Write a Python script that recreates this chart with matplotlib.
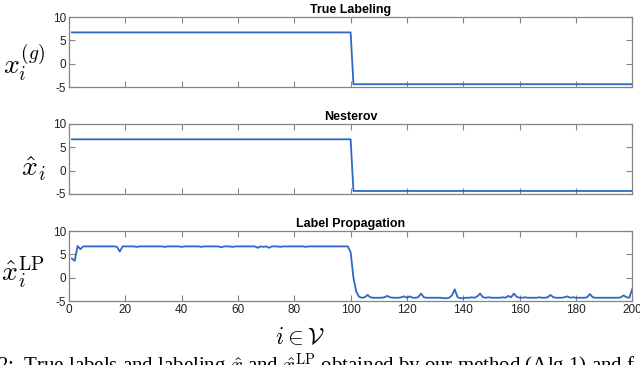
import numpy as np
import matplotlib.pyplot as plt

# node index
nodes = np.arange(1, 201)

# true labeling and Nesterov estimate (two clusters of 100 nodes)
true_label = [6.7] * 100 + [-4.4] * 100
nesterov = [6.72] * 100 + [-4.35] * 100

# label propagation estimate
label_prop = [
    4.1, 3.6, 6.8, 6.1, 6.7, 6.7, 6.7, 6.7, 6.7, 6.7,
    6.7, 6.7, 6.7, 6.7, 6.7, 6.7, 6.6, 5.6, 6.7, 6.7,
    6.7, 6.7, 6.7, 6.6, 6.7, 6.7, 6.7, 6.7, 6.7, 6.7,
    6.7, 6.7, 6.7, 6.6, 6.7, 6.7, 6.7, 6.7, 6.7, 6.6,
    6.7, 6.7, 6.7, 6.7, 6.7, 6.7, 6.6, 6.7, 6.7, 6.7,
    6.7, 6.7, 6.7, 6.5, 6.7, 6.7, 6.7, 6.6, 6.7, 6.7,
    6.7, 6.7, 6.7, 6.7, 6.7, 6.7, 6.4, 6.7, 6.6, 6.7,
    6.4, 6.7, 6.7, 6.7, 6.6, 6.7, 6.7, 6.7, 6.7, 6.7,
    6.7, 6.7, 6.7, 6.6, 6.7, 6.7, 6.7, 6.7, 6.7, 6.7,
    6.7, 6.7, 6.7, 6.7, 6.7, 6.7, 6.7, 6.7, 6.7, 5.5,
    0.0, -3.0, -4.1, -4.3, -4.2, -3.7, -4.2, -4.3, -4.3, -4.3,
    -4.3, -4.2, -3.9, -4.2, -4.3, -4.3, -4.3, -4.2, -4.0, -4.3,
    -4.0, -4.3, -4.3, -4.2, -3.4, -4.2, -4.3, -4.3, -4.3, -4.3,
    -4.3, -4.3, -4.4, -4.4, -4.3, -3.8, -2.5, -4.2, -4.4, -4.4,
    -4.3, -4.3, -4.2, -4.3, -4.0, -3.4, -4.2, -4.3, -4.2, -4.3,
    -4.3, -4.3, -4.3, -4.2, -4.3, -3.9, -4.2, -3.4, -4.1, -4.3,
    -4.3, -4.2, -4.3, -4.3, -4.3, -4.3, -4.2, -4.3, -4.3, -4.2,
    -3.7, -4.2, -4.3, -4.3, -4.3, -4.2, -4.0, -4.3, -4.2, -4.3,
    -4.3, -4.3, -4.3, -4.2, -3.5, -4.2, -4.3, -4.3, -4.3, -4.3,
    -4.3, -4.3, -4.3, -4.3, -4.3, -4.2, -3.8, -4.2, -4.3, -2.5,
]

titles = ['True Labeling', 'Nesterov', 'Label Propagation']
ylabels = [r'$x_i^{(g)}$', r'$\hat{x}_i$', r'$\hat{x}_i^{\mathrm{LP}}$']
label_pos = [(-0.080, 0.34), (-0.064, 0.36), (-0.082, 0.41)]
series = [true_label, nesterov, label_prop]

yticks = [-5, 0, 5, 10]
xticks = list(range(0, 201, 20))

plt.rcParams['mathtext.fontset'] = 'cm'
tick_font = ['Liberation Sans Narrow', 'Liberation Sans', 'DejaVu Sans']

fig = plt.figure(figsize=(6.4, 3.65), dpi=100)
bottoms = [0.7616, 0.4685, 0.1753]
line_color = '#2e68c4'
edge = '#858585'

for k in range(3):
    ax = fig.add_axes([0.108, bottoms[k], 0.8797, 0.1918])
    ax.plot(nodes, series[k], color=line_color, lw=1.3)
    ax.set_xlim(0, 200)
    ax.set_ylim(-5, 10)
    ax.set_yticks(yticks)
    ax.set_yticklabels([str(v) for v in yticks], family=tick_font, fontsize=8.5)
    ax.set_xticks(xticks)
    if k == 2:
        ax.set_xticklabels([str(v) for v in xticks], family=tick_font, fontsize=8.5)
    else:
        ax.set_xticklabels([])
    ax.tick_params(direction='in', length=4, width=0.8, color=edge,
                   top=True, right=True, pad=2, labelcolor='#222222')
    for s in ax.spines.values():
        s.set_color(edge)
        s.set_linewidth(0.9)
    ax.set_title(titles[k], family=tick_font, fontsize=9, fontweight='bold', pad=3)
    ax.set_ylabel(ylabels[k], rotation=0, fontsize=20, ha='center', va='center')
    ax.yaxis.set_label_coords(*label_pos[k])

fig.text(300 / 640, 1 - 337 / 365, r'$i\in\mathcal{V}$', fontsize=17,
         ha='center', va='center')

# caption of the paper figure, cut off at the bottom edge
fig.text(-0.005, 0.036,
         r'2:  True labels and labeling $\hat{x}$ and $\hat{x}^{\mathrm{LP}}$ obtained by our method (Alg 1) and f',
         family=['Liberation Serif', 'DejaVu Serif'], fontsize=15, ha='left', va='top')

fig.savefig('out.png', dpi=100)
